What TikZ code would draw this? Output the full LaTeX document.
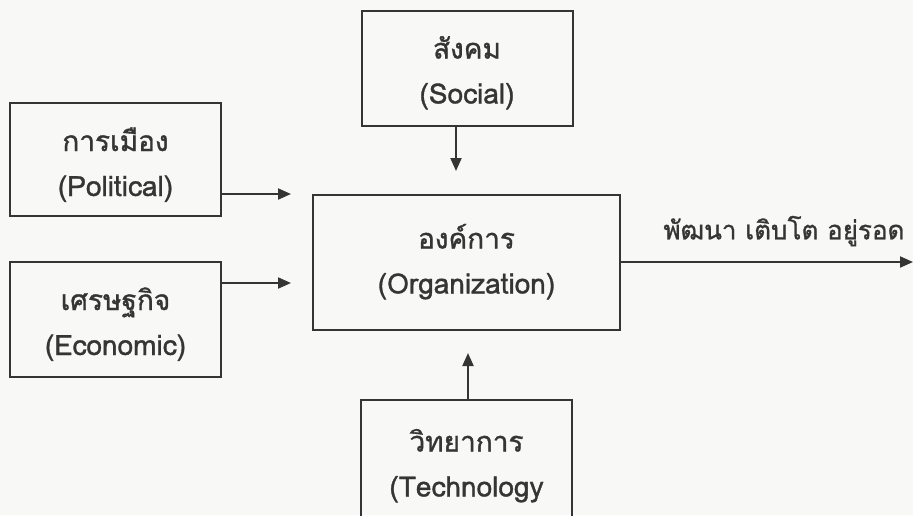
\documentclass[tikz,border=0pt]{standalone}
\usepackage{fontspec}
\setmainfont[Script=Thai,FakeBold=1.2]{Loma}
\usetikzlibrary{arrows.meta}
\definecolor{ink}{HTML}{353535}
\definecolor{paper}{HTML}{F8F8F6}
\newcommand{\twolines}[3]{\raisebox{#1}[\height][\depth]{\begin{tabular}{@{}c@{}}#2\\#3\end{tabular}}}
\begin{document}
\begin{tikzpicture}[x=1pt,y=-1pt,
  box/.style={draw=ink,line width=2pt,rectangle,text=ink,
    font=\fontsize{28}{45}\selectfont,inner sep=0pt},
  conn/.style={draw=ink,line width=2pt,-{Triangle[length=13pt,width=11pt]}},
  lbl/.style={text=ink,font=\fontsize{26}{30}\selectfont,inner sep=0pt}]
\clip (0,0) rectangle (913,515);
\fill[paper] (0,0) rectangle (913,515);
\node[box,minimum width=211pt,minimum height=113pt] (pol) at (115.5,159.5) {\twolines{-5pt}{การเมือง}{(Political)}};
\node[box,minimum width=211pt,minimum height=115pt] (eco) at (115.5,319.5) {\twolines{-4pt}{เศรษฐกิจ}{(Economic)}};
\node[box,minimum width=211pt,minimum height=115pt] (soc) at (467,68) {\twolines{-4pt}{สังคม}{(Social)}};
\node[box,minimum width=307pt,minimum height=135pt] (org) at (466.5,262) {\twolines{0pt}{องค์การ}{(Organization)}};
\node[box,minimum width=211pt,minimum height=130pt] (tech) at (466.5,465) {\twolines{0pt}{วิทยาการ}{(Technology}};
\coordinate (polT) at (291,194);
\coordinate (ecoT) at (291,283);
\coordinate (socT) at (456,171);
\coordinate (techT) at (468,353);
\coordinate (outT) at (913,262);
\draw[conn] (pol.east |- polT) -- (polT);
\draw[conn] (eco.east |- ecoT) -- (ecoT);
\draw[conn] (soc.south -| socT) -- (socT);
\draw[conn] (tech.north -| techT) -- (techT);
\draw[conn] (org.east) -- (outT);
\node[lbl] (out) at (784,231) {พัฒนา เติบโต อยู่รอด};
\end{tikzpicture}
\end{document}
